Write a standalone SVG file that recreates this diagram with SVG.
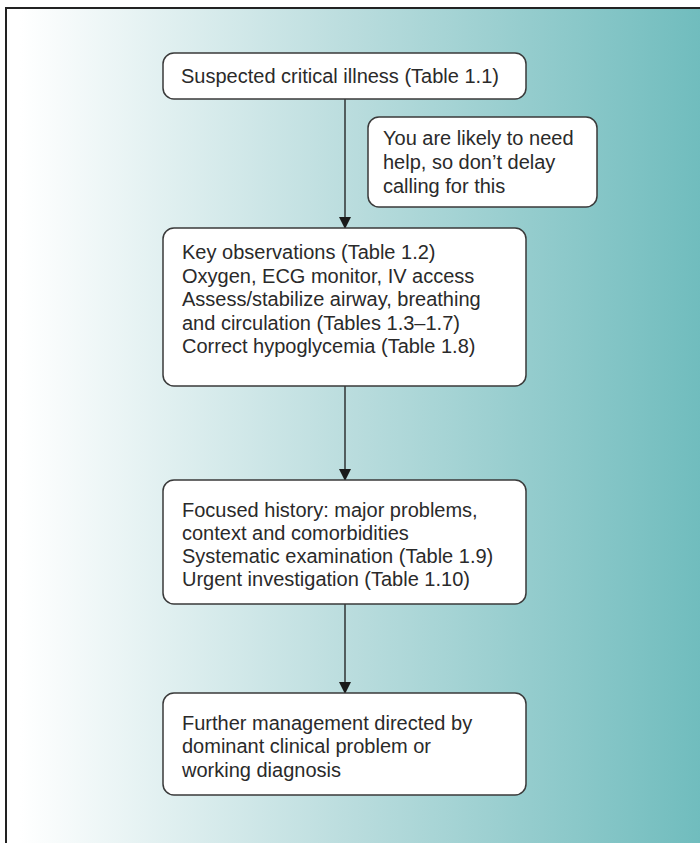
<svg xmlns="http://www.w3.org/2000/svg" width="700" height="843" viewBox="0 0 700 843">
<defs>
<linearGradient id="bg" x1="0" y1="0" x2="1" y2="0">
<stop offset="0.02" stop-color="#ffffff"/>
<stop offset="0.5" stop-color="#b9dcdd"/>
<stop offset="1" stop-color="#6fbcbd"/>
</linearGradient>
<marker id="ah" markerWidth="12" markerHeight="12" refX="11" refY="6" orient="auto" markerUnits="userSpaceOnUse">
<path d="M0,0 L12,6 L0,12 Z" fill="#1a1a1a"/>
</marker>
<style>
.box{fill:#ffffff;stroke:#3a3a3a;stroke-width:1.5}
.t{font-family:"Liberation Sans",Arial,sans-serif;font-size:20px;fill:#2a2a2a}
.c{stroke:#1a1a1a;stroke-width:1.3;fill:none}
</style>
</defs>
<rect x="0" y="0" width="700" height="843" fill="#ffffff"/>
<rect x="6" y="8" width="700" height="850" fill="url(#bg)" stroke="#222" stroke-width="2"/>
<g id="connectors">
<line class="c" x1="345" y1="99" x2="345" y2="228" marker-end="url(#ah)"/>
<line class="c" x1="345" y1="386" x2="345" y2="480" marker-end="url(#ah)"/>
<line class="c" x1="345" y1="604" x2="345" y2="693" marker-end="url(#ah)"/>
</g>
<g id="n1">
<rect class="box" x="163" y="53" width="363" height="46" rx="11"/>
<text class="t" x="181" y="83">Suspected critical illness (Table 1.1)</text>
</g>
<g id="n2">
<rect class="box" x="368" y="117" width="229" height="90" rx="11"/>
<text class="t"><tspan x="383" y="145">You are likely to need</tspan><tspan x="383" y="169">help, so don’t delay</tspan><tspan x="383" y="193">calling for this</tspan></text>
</g>
<g id="n3">
<rect class="box" x="163" y="228" width="363" height="158" rx="11"/>
<text class="t"><tspan x="182" y="259">Key observations (Table 1.2)</tspan><tspan x="182" y="283">Oxygen, ECG monitor, IV access</tspan><tspan x="182" y="306">Assess/stabilize airway, breathing</tspan><tspan x="182" y="330">and circulation (Tables 1.3–1.7)</tspan><tspan x="182" y="353">Correct hypoglycemia (Table 1.8)</tspan></text>
</g>
<g id="n4">
<rect class="box" x="163" y="480" width="363" height="124" rx="11"/>
<text class="t"><tspan x="182" y="517">Focused history: major problems,</tspan><tspan x="182" y="540">context and comorbidities</tspan><tspan x="182" y="563">Systematic examination (Table 1.9)</tspan><tspan x="182" y="586">Urgent investigation (Table 1.10)</tspan></text>
</g>
<g id="n5">
<rect class="box" x="163" y="693" width="363" height="102" rx="11"/>
<text class="t"><tspan x="182" y="730">Further management directed by</tspan><tspan x="182" y="753">dominant clinical problem or</tspan><tspan x="182" y="777">working diagnosis</tspan></text>
</g>
</svg>
